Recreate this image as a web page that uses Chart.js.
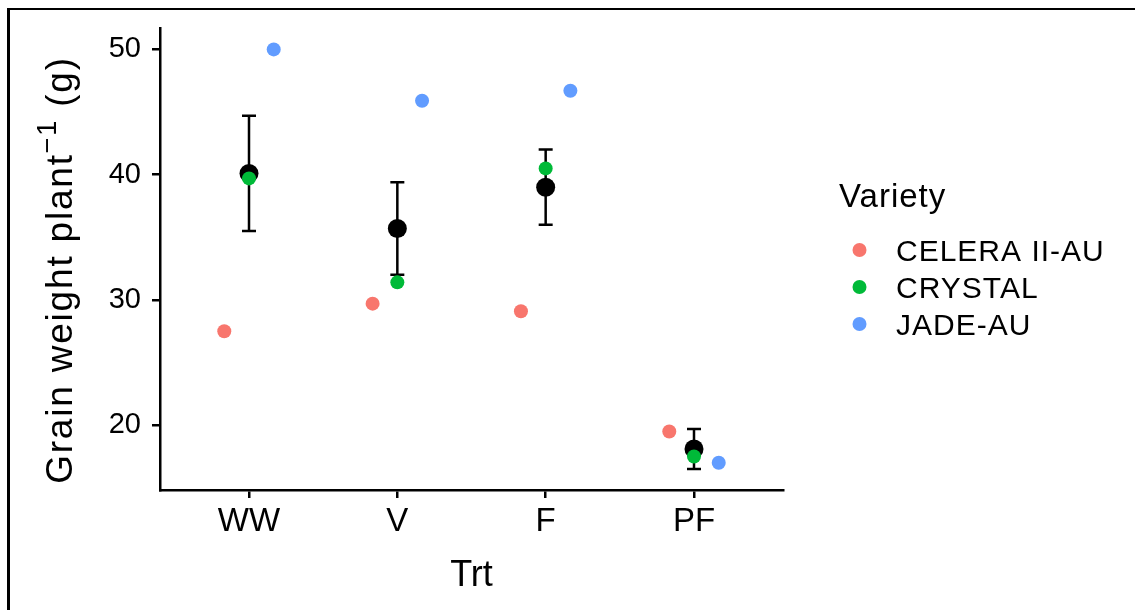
<!DOCTYPE html>
<html>
<head>
<meta charset="utf-8">
<script src="https://cdn.jsdelivr.net/npm/chart.js@4.4.1/dist/chart.umd.min.js"></script>
<style>
  html, body { margin: 0; padding: 0; background: #fff; }
  #wrap { position: relative; width: 1135px; height: 610px; }
  #frame {
    position: absolute; left: 7px; top: 8px; right: 0; bottom: 0;
    border-left: 3px solid #000; border-top: 2px solid #000;
    pointer-events: none;
  }
</style>
</head>
<body>
<div id="wrap">
  <canvas id="myChart"></canvas>
  <div id="frame"></div>
</div>
<script>
// values
const treatments = ["WW", "V", "F", "PF"];
const varieties = ["CELERA II-AU", "CRYSTAL", "JADE-AU"];
const celeraValues = [27.5, 29.7, 29.1, 19.5];
const crystalValues = [39.7, 31.4, 40.5, 17.5];
const jadeValues = [50.0, 45.9, 46.7, 17.0];
const meanValues = [40.1, 35.7, 39.0, 18.1];
const errorValues = [4.6, 3.7, 3.0, 1.6];
const yTicks = [20, 30, 40, 50];

const colors = ["#F8766D", "#00BA38", "#619CFF"];
const dodge = [-1 / 6, 0, 1 / 6];
const font = "'Liberation Sans', Arial, sans-serif";

const varietyValues = [celeraValues, crystalValues, jadeValues];

// ggplot style 5% expansion of the y range
const allY = varietyValues.flat()
  .concat(meanValues.map((m, i) => m - errorValues[i]))
  .concat(meanValues.map((m, i) => m + errorValues[i]));
const yLo = Math.min(...allY);
const yHi = Math.max(...allY);
const yPad = (yHi - yLo) * 0.05;

const datasets = varieties.map((name, k) => ({
  label: name,
  data: varietyValues[k].map((v, i) => ({ x: i + dodge[k], y: v })),
  backgroundColor: colors[k],
  pointBackgroundColor: colors[k],
  pointRadius: 7,
  pointHoverRadius: 7,
  pointBorderWidth: 0,
}));
datasets.push({
  label: "mean",
  data: meanValues.map((v, i) => ({ x: i, y: v })),
  backgroundColor: "#000",
  pointBackgroundColor: "#000",
  pointRadius: 9.5,
  pointHoverRadius: 9.5,
  pointBorderWidth: 0,
});

const errorBars = {
  id: "errorBars",
  beforeDatasetsDraw(chart) {
    const { ctx, scales } = chart;
    ctx.save();
    ctx.strokeStyle = "#000";
    ctx.lineWidth = 2.5;
    meanValues.forEach((m, i) => {
      const x = scales.x.getPixelForValue(i);
      const top = scales.y.getPixelForValue(m + errorValues[i]);
      const bot = scales.y.getPixelForValue(m - errorValues[i]);
      ctx.beginPath();
      ctx.moveTo(x, top); ctx.lineTo(x, bot);
      ctx.moveTo(x - 7, top); ctx.lineTo(x + 7, top);
      ctx.moveTo(x - 7, bot); ctx.lineTo(x + 7, bot);
      ctx.stroke();
    });
    ctx.restore();
  },
};

const labelsPlugin = {
  id: "labelsPlugin",
  afterDraw(chart) {
    const { ctx, chartArea } = chart;
    ctx.save();
    ctx.fillStyle = "#000";
    ctx.textBaseline = "alphabetic";

    // x title
    ctx.textAlign = "center";
    ctx.font = "36px " + font;
    ctx.fillText("Trt", (chartArea.left + chartArea.right) / 2, 586);

    // y title with superscript
    ctx.save();
    ctx.translate(72, 270);
    ctx.rotate(-Math.PI / 2);
    ctx.textAlign = "left";
    ctx.letterSpacing = "1.8px";
    const big = "37px " + font;
    const small = "27px " + font;
    ctx.font = big;
    const w1 = ctx.measureText("Grain weight plant").width;
    const w3 = ctx.measureText(" (g)").width;
    ctx.font = small;
    const w2 = ctx.measureText("\u22121").width;
    let x = -(w1 + w2 + w3) / 2;
    ctx.font = big;
    ctx.fillText("Grain weight plant", x, 0);
    x += w1;
    ctx.font = small;
    ctx.fillText("\u22121", x, -16);
    x += w2;
    ctx.font = big;
    ctx.fillText(" (g)", x, 0);
    ctx.restore();

    // legend
    ctx.textAlign = "left";
    ctx.letterSpacing = "1px";
    ctx.font = "33px " + font;
    ctx.fillText("Variety", 839, 207);
    ctx.font = "30px " + font;
    chart.data.datasets.slice(0, varieties.length).forEach((ds, k) => {
      const cy = 250 + k * 37;
      ctx.fillStyle = ds.backgroundColor;
      ctx.beginPath();
      ctx.arc(859.5, cy, 7, 0, Math.PI * 2);
      ctx.fill();
      ctx.fillStyle = "#000";
      ctx.fillText(ds.label, 896, cy + 10.7);
    });
    ctx.restore();
  },
};

const ctx = document.getElementById("myChart").getContext("2d");
const myChart = new Chart(ctx, {
  type: "scatter",
  data: { datasets: datasets },
  plugins: [errorBars, labelsPlugin],
  options: {
    responsive: true,
    maintainAspectRatio: false,
    animation: false,
    events: [],
    layout: {
      autoPadding: false,
      padding: { left: 100, top: 28, right: 352, bottom: 60 },
    },
    scales: {
      x: {
        type: "linear",
        min: -0.6,
        max: 3.6,
        afterBuildTicks: (axis) => {
          axis.ticks = treatments.map((t, i) => ({ value: i }));
        },
        afterFit: (axis) => { axis.height = 60; },
        border: { display: true, color: "#000", width: 2.5 },
        grid: { display: true, drawOnChartArea: false, drawTicks: true, tickLength: 8, color: "#000", lineWidth: 2.5 },
        ticks: {
          color: "#000",
          padding: 4,
          maxRotation: 0,
          autoSkip: false,
          font: { family: font, size: 33 },
          callback: (v) => treatments[v],
        },
      },
      y: {
        min: yLo - yPad,
        max: yHi + yPad,
        afterBuildTicks: (axis) => {
          axis.ticks = yTicks.map((v) => ({ value: v }));
        },
        afterFit: (axis) => { axis.width = 60; },
        border: { display: true, color: "#000", width: 2.5 },
        grid: { display: true, drawOnChartArea: false, drawTicks: true, tickLength: 8, color: "#000", lineWidth: 2.5 },
        ticks: {
          color: "#000",
          padding: 11,
          font: { family: font, size: 29 },
        },
      },
    },
    plugins: {
      legend: { display: false },
      tooltip: { enabled: false },
    },
  },
});
</script>
</body>
</html>
